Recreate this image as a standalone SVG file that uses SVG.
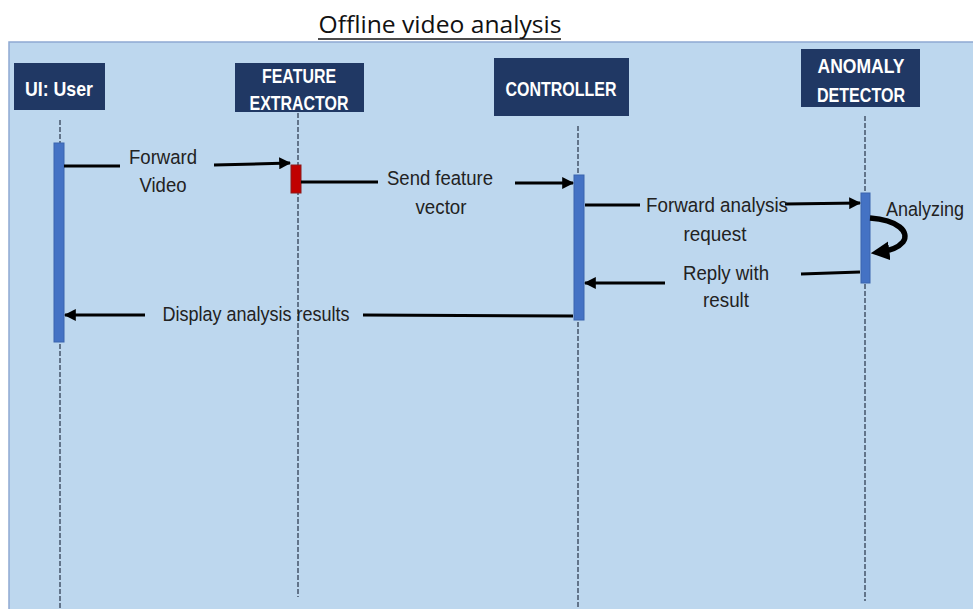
<svg xmlns="http://www.w3.org/2000/svg" width="973" height="609" viewBox="0 0 973 609">
<style>
.hdr{fill:#203864}
.ht{fill:#ffffff;font-family:"Liberation Sans",Arial,sans-serif;font-weight:bold;font-size:21px;text-anchor:middle}
.life{stroke:#44546A;stroke-width:1.5;stroke-dasharray:5 2;fill:none}
.act{fill:#4472C4;stroke:#3A64AE;stroke-width:1}
.msg{stroke:#000;stroke-width:3;fill:none}
.lbl{fill:#222;font-family:"Liberation Sans",Arial,sans-serif;font-size:20.5px;text-anchor:middle}
</style>
<defs>
<marker id="ah" viewBox="0 0 10 10" refX="9" refY="5" markerWidth="4" markerHeight="4" orient="auto" markerUnits="strokeWidth">
<path d="M0,0 L10,5 L0,10 Z" fill="#000"/>
</marker>
<marker id="ah2" viewBox="0 0 10 10" refX="5" refY="5" markerWidth="3.4" markerHeight="3.8" orient="auto" markerUnits="strokeWidth">
<path d="M0,0 L10,5 L0,10 Z" fill="#000"/>
</marker>
</defs>
<rect x="0" y="0" width="973" height="609" fill="#ffffff"/>
<rect x="9" y="42" width="970" height="575" fill="#BDD7EE" stroke="#8EA9D2" stroke-width="1.5"/>
<g id="title">
<text x="440" y="33" font-family="'Open Sans','Liberation Sans',sans-serif" font-size="23" fill="#111" text-anchor="middle" textLength="243" lengthAdjust="spacingAndGlyphs">Offline video analysis</text>
<line x1="318" y1="39" x2="561" y2="39" stroke="#111" stroke-width="1.5"/>
</g>
<g id="lifelines">
<line class="life" x1="60" y1="120" x2="60" y2="609"/>
<line class="life" x1="298" y1="113" x2="298" y2="597"/>
<line class="life" x1="578" y1="126" x2="578" y2="609"/>
<line class="life" x1="865" y1="116" x2="865" y2="601"/>
</g>
<g id="node-ui-user">
<rect class="hdr" x="14" y="63" width="91" height="47"/>
<text class="ht" x="59" y="96" textLength="68" lengthAdjust="spacingAndGlyphs">UI: User</text>
</g>
<g id="node-feature-extractor">
<rect class="hdr" x="235" y="63" width="129" height="49"/>
<text class="ht" x="299" y="83" textLength="74" lengthAdjust="spacingAndGlyphs">FEATURE</text>
<text class="ht" x="299" y="110" textLength="99" lengthAdjust="spacingAndGlyphs">EXTRACTOR</text>
</g>
<g id="node-controller">
<rect class="hdr" x="494" y="58" width="135" height="58"/>
<text class="ht" x="561" y="96" textLength="111" lengthAdjust="spacingAndGlyphs">CONTROLLER</text>
</g>
<g id="node-anomaly-detector">
<rect class="hdr" x="801" y="49" width="119" height="58"/>
<text class="ht" x="861" y="73" textLength="87" lengthAdjust="spacingAndGlyphs">ANOMALY</text>
<text class="ht" x="861" y="102" textLength="88" lengthAdjust="spacingAndGlyphs">DETECTOR</text>
</g>
<g id="activations">
<rect class="act" x="54" y="143" width="10" height="199"/>
<rect x="291" y="165" width="10" height="28" fill="#C00000" stroke="#8B1A1A" stroke-width="1"/>
<rect class="act" x="574" y="175" width="10" height="145"/>
<rect class="act" x="861" y="193" width="9" height="90"/>
</g>
<g id="connectors">
<line class="msg" x1="64" y1="166" x2="120" y2="166"/>
<line class="msg" x1="214" y1="165" x2="290" y2="163" marker-end="url(#ah)"/>
<line class="msg" x1="301" y1="182" x2="378" y2="182"/>
<line class="msg" x1="515" y1="183" x2="573" y2="183" marker-end="url(#ah)"/>
<line class="msg" x1="585" y1="205" x2="640" y2="205"/>
<line class="msg" x1="785" y1="204" x2="860" y2="203" marker-end="url(#ah)"/>
<path d="M870,218 C898,220 910,232 903,242 C897,249 888,251 880,252" stroke="#000" stroke-width="5.5" fill="none" marker-end="url(#ah2)"/>
<line class="msg" x1="860" y1="272" x2="801" y2="274"/>
<line class="msg" x1="665" y1="283" x2="585" y2="283" marker-end="url(#ah)"/>
<line class="msg" x1="573" y1="316" x2="363" y2="315"/>
<line class="msg" x1="145" y1="315" x2="65" y2="315" marker-end="url(#ah)"/>
</g>
<g id="labels">
<text class="lbl" x="163" y="164" textLength="68" lengthAdjust="spacingAndGlyphs">Forward</text>
<text class="lbl" x="163" y="192" textLength="47" lengthAdjust="spacingAndGlyphs">Video</text>
<text class="lbl" x="440" y="185" textLength="106" lengthAdjust="spacingAndGlyphs">Send feature</text>
<text class="lbl" x="441" y="214" textLength="51" lengthAdjust="spacingAndGlyphs">vector</text>
<text class="lbl" x="717" y="212" textLength="142" lengthAdjust="spacingAndGlyphs">Forward analysis</text>
<text class="lbl" x="715" y="241" textLength="63" lengthAdjust="spacingAndGlyphs">request</text>
<text class="lbl" x="925" y="216" textLength="78" lengthAdjust="spacingAndGlyphs">Analyzing</text>
<text class="lbl" x="726" y="280" textLength="86" lengthAdjust="spacingAndGlyphs">Reply with</text>
<text class="lbl" x="726" y="307" textLength="46" lengthAdjust="spacingAndGlyphs">result</text>
<text class="lbl" x="256" y="321" textLength="187" lengthAdjust="spacingAndGlyphs">Display analysis results</text>
</g>
</svg>
